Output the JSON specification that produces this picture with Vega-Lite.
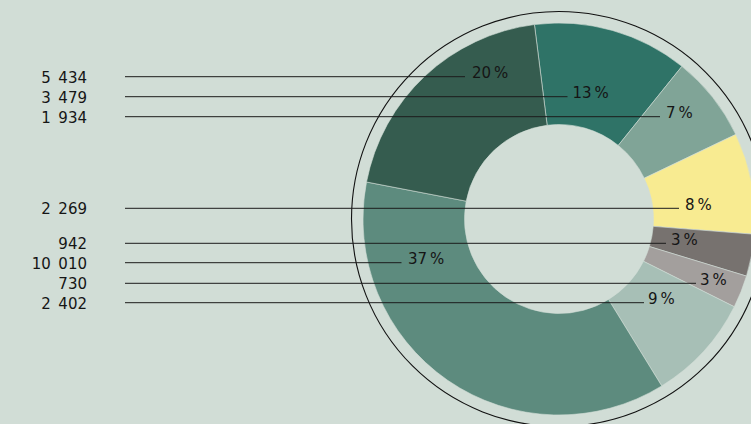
{
  "$schema": "https://vega.github.io/schema/vega-lite/v6.json",
  "width": 751,
  "height": 424,
  "padding": 0,
  "autosize": {"type": "none"},
  "background": "#d1ddd6",
  "config": {"view": {"stroke": null}, "text": {"font": "DejaVu Sans", "fontSize": 15, "fill": "#151515"}},
  "datasets": {
    "slices": [
      {"segment": "S1", "order": 1, "value": 3479, "valueLabel": "3\u2002479", "pct": "13\u2009%", "rowY": 96.7, "lineEnd": 567.5, "labelX": 572.5},
      {"segment": "S2", "order": 2, "value": 1934, "valueLabel": "1\u2002934", "pct": "7\u2009%", "rowY": 116.7, "lineEnd": 660, "labelX": 666},
      {"segment": "S3", "order": 3, "value": 2269, "valueLabel": "2\u2002269", "pct": "8\u2009%", "rowY": 208.3, "lineEnd": 679, "labelX": 685},
      {"segment": "S4", "order": 4, "value": 942, "valueLabel": "942", "pct": "3\u2009%", "rowY": 243.3, "lineEnd": 666, "labelX": 671},
      {"segment": "S5", "order": 5, "value": 730, "valueLabel": "730", "pct": "3\u2009%", "rowY": 283.3, "lineEnd": 696, "labelX": 700},
      {"segment": "S6", "order": 6, "value": 2402, "valueLabel": "2\u2002402", "pct": "9\u2009%", "rowY": 302.7, "lineEnd": 644, "labelX": 648},
      {"segment": "S7", "order": 7, "value": 10010, "valueLabel": "10\u2002010", "pct": "37\u2009%", "rowY": 262.7, "lineEnd": 401.5, "labelX": 408},
      {"segment": "S8", "order": 8, "value": 5434, "valueLabel": "5\u2002434", "pct": "20\u2009%", "rowY": 76.7, "lineEnd": 465, "labelX": 472}
    ]
  },
  "data": {"name": "slices"},
  "layer": [
    {
      "data": {"values": [{"ring": "outer"}]},
      "mark": {"type": "point", "shape": "circle", "size": 172225, "filled": false, "stroke": "#111111", "strokeWidth": 1.1, "opacity": 1},
      "encoding": {
        "x": {"datum": 559, "type": "quantitative", "scale": {"domain": [0, 751], "nice": false, "zero": false}, "axis": null},
        "y": {"datum": 219, "type": "quantitative", "scale": {"domain": [0, 424], "nice": false, "zero": false, "reverse": true}, "axis": null}
      }
    },
    {
      "mark": {"type": "arc", "innerRadius": 94.5, "outerRadius": 196, "stroke": "#d1ddd6", "strokeWidth": 0.6},
      "encoding": {
        "theta": {"field": "value", "type": "quantitative", "stack": true, "scale": {"range": [-0.1257, 6.1575]}},
        "order": {"field": "order", "type": "quantitative"},
        "color": {"field": "segment", "type": "nominal", "legend": null,
          "scale": {"domain": ["S1", "S2", "S3", "S4", "S5", "S6", "S7", "S8"],
                    "range": ["#2f7367", "#80a497", "#f8eb91", "#77726f", "#a39f9d", "#a7bfb6", "#5d8b7e", "#355c4f"]}},
        "x": {"datum": 559, "type": "quantitative"},
        "y": {"datum": 219, "type": "quantitative"}
      }
    },
    {
      "mark": {"type": "rule", "stroke": "#1c1c1c", "strokeWidth": 1},
      "encoding": {
        "x": {"field": "lineEnd", "type": "quantitative"},
        "x2": {"datum": 125},
        "y": {"field": "rowY", "type": "quantitative"}
      }
    },
    {
      "mark": {"type": "text", "align": "right", "baseline": "middle", "dy": 1},
      "encoding": {
        "x": {"datum": 87, "type": "quantitative"},
        "y": {"field": "rowY", "type": "quantitative"},
        "text": {"field": "valueLabel"}
      }
    },
    {
      "mark": {"type": "text", "align": "left", "baseline": "alphabetic", "dy": 1.3},
      "encoding": {
        "x": {"field": "labelX", "type": "quantitative"},
        "y": {"field": "rowY", "type": "quantitative"},
        "text": {"field": "pct"}
      }
    }
  ]
}
